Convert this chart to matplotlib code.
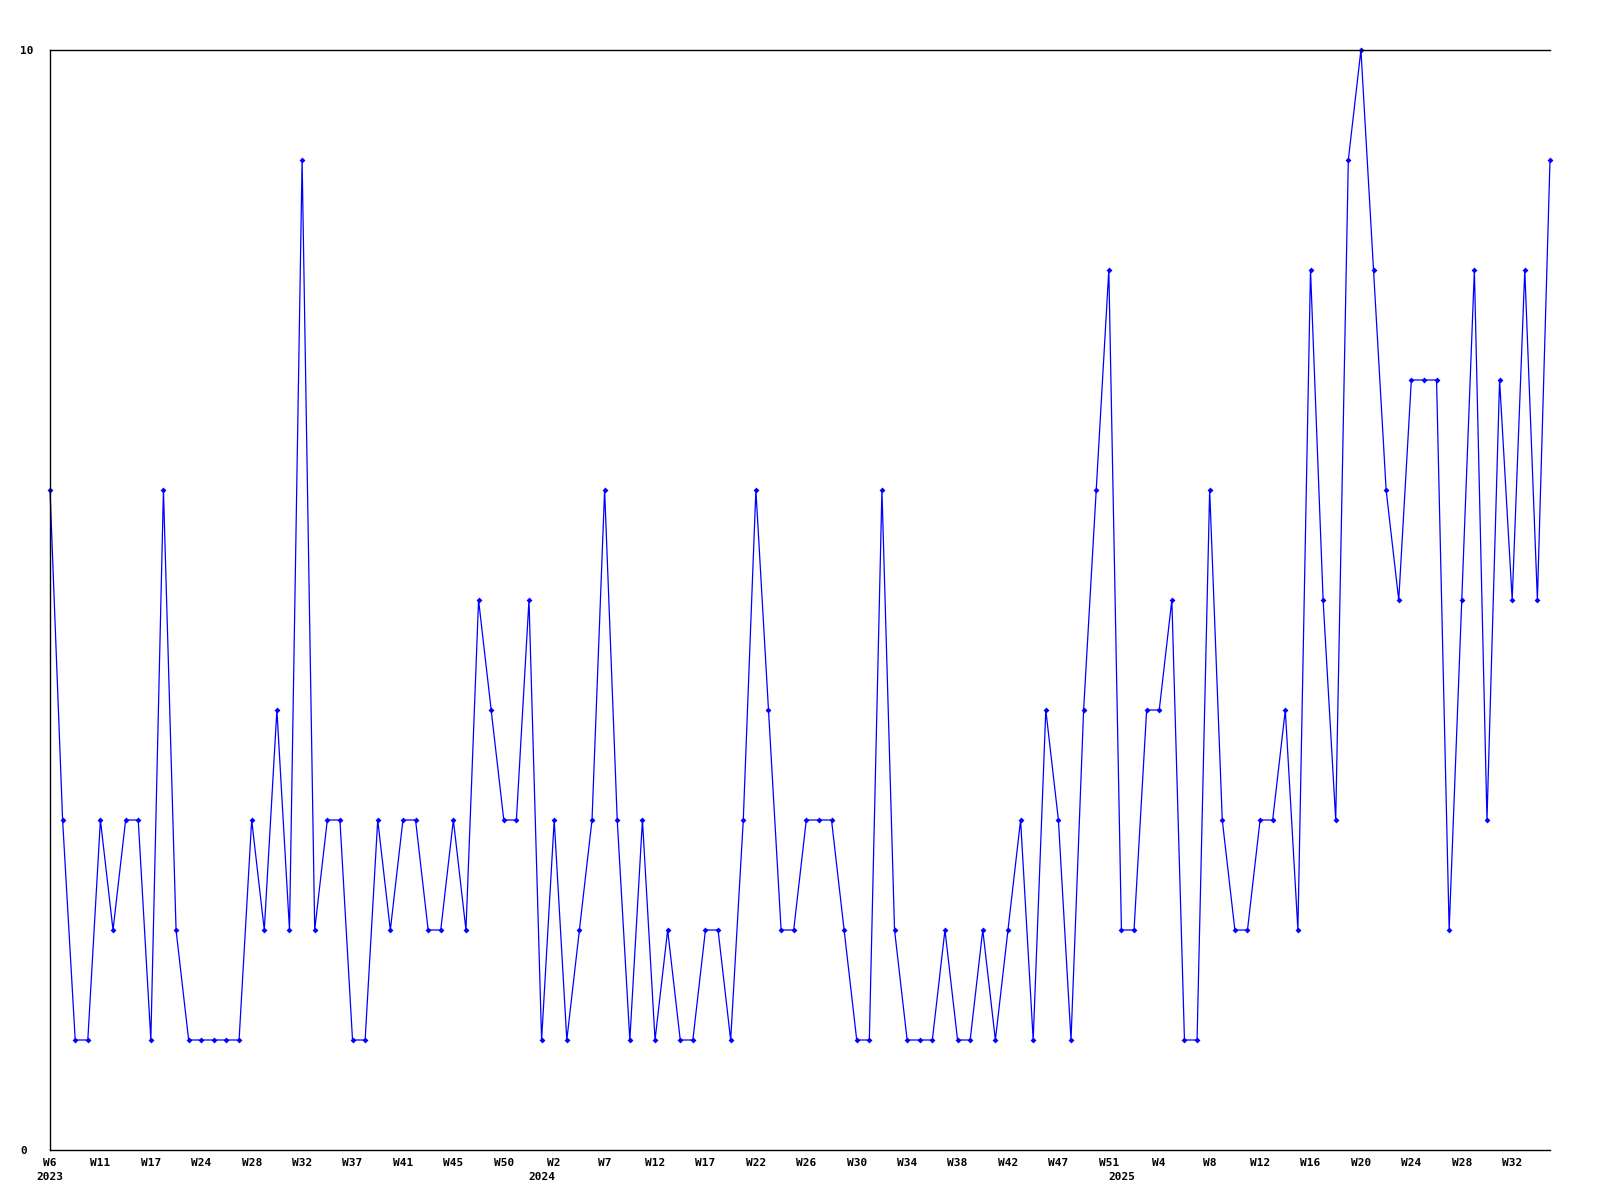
import matplotlib
matplotlib.use("Agg")
import matplotlib.pyplot as plt
import numpy as np

# weekly counts, one value per plotted week
values = [
    6, 3, 1, 1, 3, 2, 3, 3, 1, 6,
    2, 1, 1, 1, 1, 1, 3, 2, 4, 2,
    9, 2, 3, 3, 1, 1, 3, 2, 3, 3,
    2, 2, 3, 2, 5, 4, 3, 3, 5, 1,
    3, 1, 2, 3, 6, 3, 1, 3, 1, 2,
    1, 1, 2, 2, 1, 3, 6, 4, 2, 2,
    3, 3, 3, 2, 1, 1, 6, 2, 1, 1,
    1, 2, 1, 1, 2, 1, 2, 3, 1, 4,
    3, 1, 4, 6, 8, 2, 2, 4, 4, 5,
    1, 1, 6, 3, 2, 2, 3, 3, 4, 2,
    8, 5, 3, 9, 10, 8, 6, 5, 7, 7,
    7, 2, 5, 8, 3, 7, 5, 8, 5, 9,
]

# labels shown on every 4th point
week_labels = [
    "W6", "W11", "W17", "W24", "W28", "W32", "W37", "W41", "W45", "W50",
    "W2", "W7", "W12", "W17", "W22", "W26", "W30", "W34", "W38", "W42",
    "W47", "W51", "W4", "W8", "W12", "W16", "W20", "W24", "W28", "W32",
]
# first plotted week of each year (index into values)
year_start = [0, 39, 85]
year_labels = ["2023", "2024", "2025"]

x = np.arange(len(values))

fig = plt.figure(figsize=(16, 12), dpi=100)
ax = fig.add_axes([50 / 1600, 50 / 1200, 1500 / 1600, 1100 / 1200])

ax.plot(x, values, color="#0000ff", linewidth=0.9, marker="D",
        markersize=3, markeredgewidth=0, clip_on=False)

ax.set_xlim(0, len(values) - 1)
ax.set_ylim(0, 10)

font = {"family": "DejaVu Sans Mono", "weight": "bold", "size": 8}

ax.xaxis.remove_overlapping_locs = False
ax.set_xticks(x[::4])
ax.set_xticklabels(week_labels, fontdict=font)
ax.set_xticks(year_start, minor=True)
ax.set_xticklabels(year_labels, fontdict=font, minor=True)
ax.set_yticks([0, 10])
ax.set_yticklabels(["0", "10"], fontdict=font, ha="left")
ax.tick_params(axis="x", which="major", length=0, pad=6)
ax.tick_params(axis="x", which="minor", length=0, pad=15.5)
ax.tick_params(axis="y", length=0, pad=21.6)

ax.spines["right"].set_visible(False)
for s in ["left", "bottom", "top"]:
    ax.spines[s].set_linewidth(1.0)
    ax.spines[s].set_color("black")

fig.savefig("out.png", dpi=100)
